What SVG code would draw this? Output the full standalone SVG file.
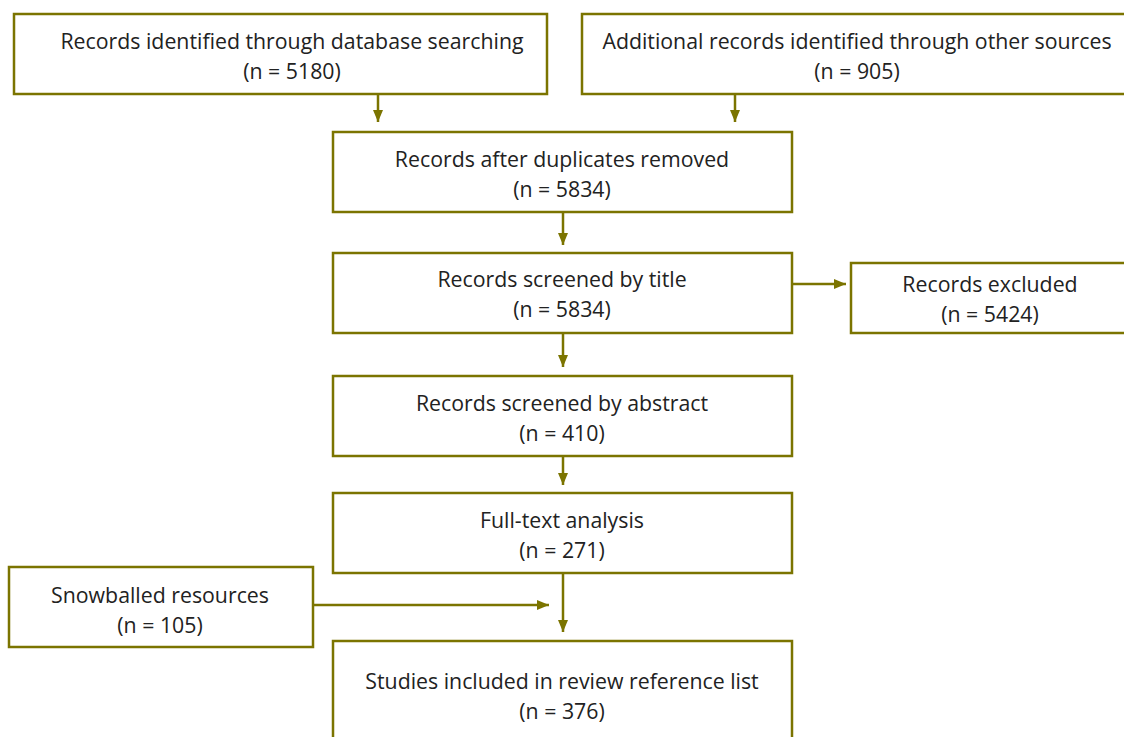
<svg xmlns="http://www.w3.org/2000/svg" width="1124" height="737" viewBox="0 0 1124 737">
<defs>
<marker id="ah" viewBox="0 0 12 10" refX="12" refY="5" markerWidth="12" markerHeight="10" markerUnits="userSpaceOnUse" orient="auto">
<path d="M0,0 L12,5 L0,10 Z" fill="#7b7400"/>
</marker>
<style>
.box{fill:#fff;stroke:#7b7400;stroke-width:2.5}
.t{font-family:"Open Sans","Noto Sans","Liberation Sans",sans-serif;font-size:21.3px;fill:#222;text-anchor:middle}
.c{stroke:#7b7400;stroke-width:2.5;fill:none;marker-end:url(#ah)}
</style>
</defs>
<rect width="1124" height="737" fill="#fff"/>
<g id="connectors">
<line class="c" x1="378" y1="94" x2="378" y2="122"/>
<line class="c" x1="735" y1="94" x2="735" y2="122"/>
<line class="c" x1="563" y1="212" x2="563" y2="245"/>
<line class="c" x1="792" y1="284" x2="846" y2="284"/>
<line class="c" x1="563" y1="333" x2="563" y2="367"/>
<line class="c" x1="563" y1="456" x2="563" y2="485"/>
<line class="c" x1="313" y1="605" x2="549" y2="605"/>
<line class="c" x1="563" y1="573" x2="563" y2="632"/>
</g>
<g id="n1"><rect class="box" x="14" y="14" width="533" height="80"/>
<text class="t" x="292" y="49">Records identified through database searching</text>
<text class="t" x="292" y="79">(n = 5180)</text></g>
<g id="n2"><rect class="box" x="582" y="14" width="560" height="80"/>
<text class="t" x="857" y="49">Additional records identified through other sources</text>
<text class="t" x="857" y="79">(n = 905)</text></g>
<g id="n3"><rect class="box" x="333" y="132" width="459" height="80"/>
<text class="t" x="562" y="167">Records after duplicates removed</text>
<text class="t" x="562" y="197">(n = 5834)</text></g>
<g id="n4"><rect class="box" x="333" y="253" width="459" height="80"/>
<text class="t" x="562" y="287">Records screened by title</text>
<text class="t" x="562" y="317">(n = 5834)</text></g>
<g id="n5"><rect class="box" x="851" y="263" width="290" height="70"/>
<text class="t" x="990" y="292">Records excluded</text>
<text class="t" x="990" y="322">(n = 5424)</text></g>
<g id="n6"><rect class="box" x="333" y="376" width="459" height="80"/>
<text class="t" x="562" y="411">Records screened by abstract</text>
<text class="t" x="562" y="441">(n = 410)</text></g>
<g id="n7"><rect class="box" x="333" y="493" width="459" height="80"/>
<text class="t" x="562" y="528">Full-text analysis</text>
<text class="t" x="562" y="558">(n = 271)</text></g>
<g id="n8"><rect class="box" x="9" y="567" width="304" height="80"/>
<text class="t" x="160" y="603">Snowballed resources</text>
<text class="t" x="160" y="633">(n = 105)</text></g>
<g id="n9"><rect class="box" x="333" y="641" width="459" height="110"/>
<text class="t" x="562" y="689">Studies included in review reference list</text>
<text class="t" x="562" y="719">(n = 376)</text></g>
</svg>
